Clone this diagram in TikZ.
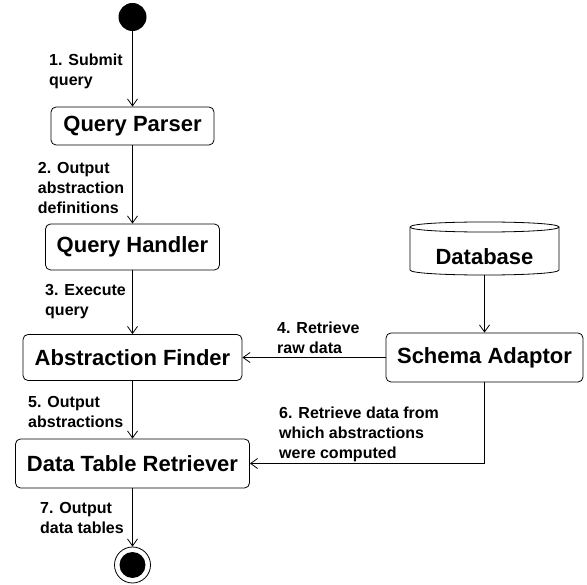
\documentclass[tikz,border=0pt]{standalone}
\usepackage{fontspec}
\setmainfont{Liberation Sans}
\usetikzlibrary{arrows.meta}
\tikzset{
  box/.style={draw, rounded corners=5pt, line width=0.8pt, inner sep=0pt, font=\fontsize{22}{26}\selectfont\bfseries},
  lbl/.style={anchor=north west, inner sep=0pt, align=left, font=\fontsize{16}{20}\selectfont\bfseries},
  flow/.style={line width=0.8pt, -{Straight Barb[length=7pt,width=10pt]}},
  thinline/.style={line width=0.8pt},
}
\begin{document}
\begin{tikzpicture}[x=1pt,y=-1pt]
\useasboundingbox (0,0) rectangle (587,585);
% main column
\node[circle, fill=black, minimum size=28pt, inner sep=0pt] (start) at (132.5,17) {};
\node[box, minimum width=163pt, minimum height=38pt] (qp) at (132.5,126) {Query Parser};
\node[box, minimum width=174pt, minimum height=46pt] (qh) at (132.5,247) {Query Handler};
\node[box, minimum width=219pt, minimum height=46pt] (af) at (132.5,357.5) {Abstraction Finder};
\node[box, minimum width=234pt, minimum height=49pt] (dtr) at (132.5,463.5) {Data Table Retriever};
\node[circle, draw, thinline, minimum size=36pt, inner sep=0pt] (end) at (132.5,565) {};
\node[circle, fill=black, minimum size=26pt, inner sep=0pt] (endin) at (end.center) {};
% right side
\node[box, minimum width=197pt, minimum height=49pt] (sa) at (484.5,357.5) {Schema Adaptor};
\draw[thinline] (410,227) -- (410,270) .. controls (410,276.7) and (559,276.7) .. (559,270) -- (559,227);
\draw[thinline] (410,227) .. controls (410,220.3) and (559,220.3) .. (559,227)
                          .. controls (559,233.7) and (410,233.7) .. (410,227);
\node[inner sep=0pt, font=\fontsize{22}{26}\selectfont\bfseries] (db) at (484.5,257) {Database};
\coordinate (dbbot) at (484.5,275);
% connectors
\draw[flow] (start) -- (qp);
\draw[flow] (qp) -- (qh);
\draw[flow] (qh) -- (af);
\draw[flow] (af) -- (dtr);
\draw[flow] (dtr) -- (end);
\draw[flow] (dbbot) -- (sa);
\draw[flow] (sa.west) -- (sa.west -| af.east);
\draw[flow] (sa.south) |- (dtr.east);
% labels
\node[lbl] (l1) at (49,54) {1. Submit\\query};
\node[lbl] (l2) at (37.7,162) {2. Output\\abstraction\\definitions};
\node[lbl] (l3) at (45,284) {3. Execute\\query};
\node[lbl] (l4) at (277,321.5) {4. Retrieve\\raw data};
\node[lbl] (l5) at (28,396) {5. Output\\abstractions};
\node[lbl] (l6) at (279,407) {6. Retrieve data from\\which abstractions\\were computed};
\node[lbl] (l7) at (40,502) {7. Output\\data tables};
\end{tikzpicture}
\end{document}
